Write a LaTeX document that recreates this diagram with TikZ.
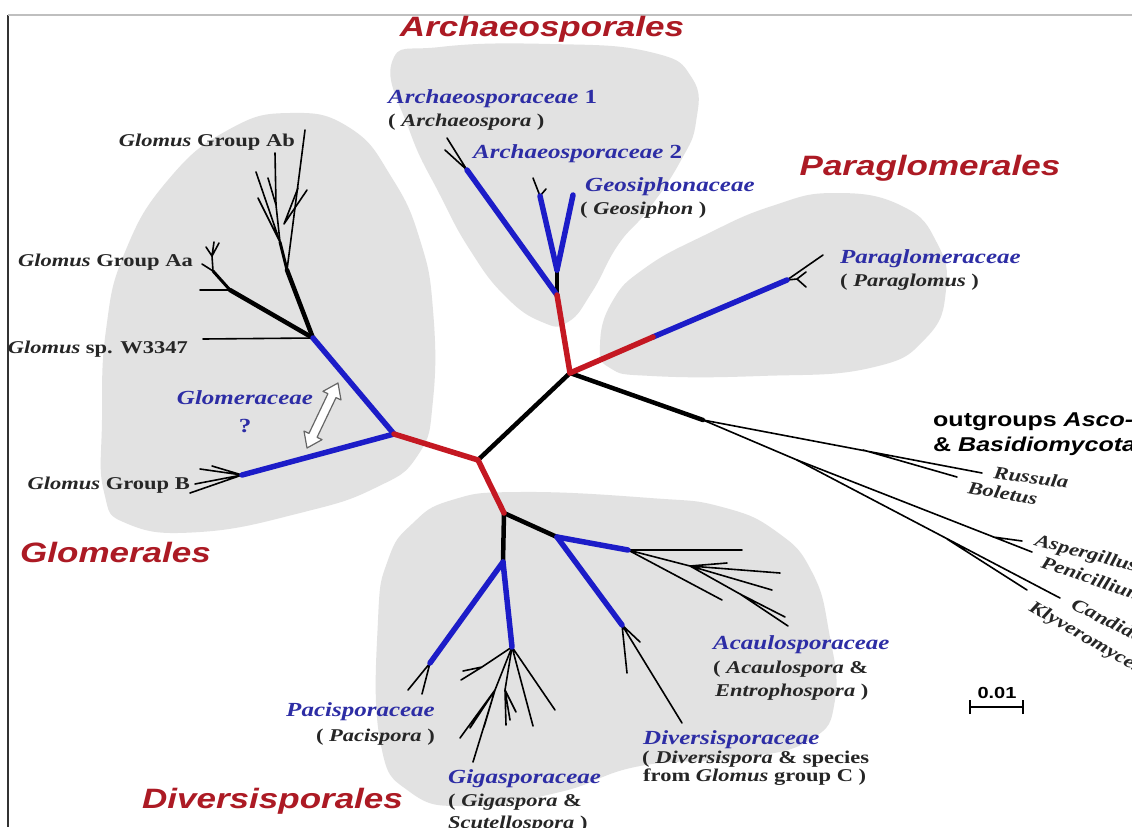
\documentclass[tikz,border=0pt]{standalone}
\usepackage{fontspec}
\setmainfont{Liberation Serif}
\setsansfont{Liberation Sans}
\usepackage{graphicx}
\definecolor{blobgrey}{RGB}{226,226,226}
\definecolor{brblue}{RGB}{28,28,200}
\definecolor{brred}{RGB}{196,24,34}
\definecolor{labblue}{RGB}{45,45,165}
\definecolor{ordred}{RGB}{172,26,36}
\newcommand\sx[1]{\scalebox{1.25}[1]{#1}}
\begin{document}
\begin{tikzpicture}[x=1pt,y=-1pt,
  bblue/.style={draw=brblue,line width=5.5pt,line cap=round},
  bred/.style={draw=brred,line width=5.5pt,line cap=round},
  bblack/.style={draw=black,line width=4.5pt,line cap=round},
  mblack/.style={draw=black,line width=3pt,line cap=round},
  twig/.style={draw=black,line width=1.6pt,line cap=round},
  fam/.style={text=labblue,inner sep=0pt,font=\fontsize{20}{22}\selectfont\bfseries},
  sub/.style={text=black!85,inner sep=0pt,font=\fontsize{18}{20}\selectfont\bfseries},
  ord/.style={text=ordred,inner sep=0pt,font=\fontsize{28}{30}\selectfont\sffamily\bfseries\itshape},
  outl/.style={text=black,inner sep=0pt,font=\fontsize{20}{22}\selectfont\sffamily\bfseries},
  blob/.style={fill=blobgrey}]
\useasboundingbox (0,0) rectangle (1132,827);
\clip (0,0) rectangle (1132,827);
\fill[white] (0,0) rectangle (1132,827);
% frame
\coordinate (fA) at (8,15); \coordinate (fB) at (8,827); \coordinate (fC) at (1132,15);
\draw[black!80,line width=1.5pt] (fA) -- (fB);
\draw[black!25,line width=1.5pt] (fA) -- (fC);
% blobs
\fill[blob] plot[smooth cycle, tension=0.8] coordinates {(290,113) (350,128) (392,178) (420,240) (433,310) (433,400) (418,455) (375,488) (300,513) (200,532) (128,524) (104,492) (102,420) (106,330) (125,252) (168,180) (228,130)};
\fill[blob] plot[smooth cycle, tension=0.8] coordinates {(392,62) (440,47) (550,44) (650,52) (692,78) (696,122) (680,162) (648,210) (618,245) (592,292) (568,322) (542,322) (505,296) (470,250) (440,195) (410,132)};
\fill[blob] plot[smooth cycle, tension=0.8] coordinates {(600,345) (612,302) (645,268) (705,235) (772,206) (835,193) (902,206) (937,243) (946,290) (926,338) (870,368) (760,376) (652,376) (610,368)};
\fill[blob] plot[smooth cycle, tension=0.8] coordinates {(378,620) (388,560) (412,524) (452,500) (520,492) (650,498) (722,507) (777,532) (812,572) (829,632) (835,700) (810,740) (740,758) (640,766) (560,792) (470,806) (410,792) (380,740)};
% ---------- coordinates ----------
\coordinate (C1) at (570,373);
\coordinate (C2) at (478,460);
\coordinate (G) at (394,434);
\coordinate (D) at (504,513);
\coordinate (A) at (557,295);
\coordinate (A2) at (557,270);
\coordinate (PR) at (653,337);
\coordinate (PT) at (787,280);
\coordinate (O) at (703,420);
% paraglomus tips
\coordinate (PTa) at (797,279);
\coordinate (pt1) at (823,255);
\coordinate (pt2) at (806,272);
\coordinate (pt3) at (806,287);
% outgroups
\coordinate (R1) at (863,450);
\coordinate (tRus) at (982,473);
\coordinate (tBol) at (957,477);
\coordinate (AS) at (797,460);
\coordinate (AP) at (993,537);
\coordinate (tAsp) at (1022,541);
\coordinate (tPen) at (1032,552);
\coordinate (CK) at (947,539);
\coordinate (tCan) at (1060,598);
\coordinate (tKly) at (1027,590);
% glomerales
\coordinate (J1) at (313,338);
\coordinate (B) at (242,475);
\coordinate (tW) at (203,339);
\coordinate (AJ) at (230,290);
\coordinate (K1) at (287,270);
\coordinate (tAb) at (305,130);
\coordinate (S1) at (280,242);
\coordinate (s1a) at (258,198);
\coordinate (s1b) at (256,172);
\coordinate (S2) at (276,205);
\coordinate (s2a) at (275,153);
\coordinate (s2b) at (268,178);
\coordinate (S3) at (284,224);
\coordinate (s3a) at (307,190);
\coordinate (s3b) at (298,188);
\coordinate (tAa1) at (200,290);
\coordinate (AJ2) at (213,271);
\coordinate (tAa2) at (202,264);
\coordinate (AJ3) at (212,256);
\coordinate (tAa3) at (219,243);
\coordinate (tAa4) at (206,247);
\coordinate (tAa5) at (214,242);
\coordinate (tB1) at (200,469);
\coordinate (tB2) at (212,466);
\coordinate (tB3) at (195,484);
\coordinate (tB4) at (190,493);
% archaeo
\coordinate (AR1) at (467,170);
\coordinate (tAr1) at (447,138);
\coordinate (tAr2) at (445,150);
\coordinate (AG1) at (540,196);
\coordinate (AG2) at (573,195);
\coordinate (tAg1) at (533,178);
\coordinate (tAg2) at (546,189);
% diversisporales
\coordinate (DG) at (503,562);
\coordinate (PAC) at (430,663);
\coordinate (GIG) at (512,647);
\coordinate (DA) at (557,537);
\coordinate (ACA) at (628,550);
\coordinate (DIV) at (622,625);
\coordinate (tPac1) at (408,690);
\coordinate (tPac2) at (422,694);
\coordinate (gA) at (482,667);
\coordinate (tgA1) at (461,680);
\coordinate (tgA2) at (463,671);
\coordinate (gB) at (495,690);
\coordinate (tgB1) at (473,762);
\coordinate (tgB2) at (460,738);
\coordinate (tgB3) at (470,728);
\coordinate (tgB4) at (484,727);
\coordinate (gC) at (505,690);
\coordinate (tgC1) at (510,720);
\coordinate (tgC2) at (516,712);
\coordinate (tgC3) at (506,725);
\coordinate (tg4) at (533,726);
\coordinate (tg5) at (555,710);
\coordinate (tDv1) at (682,723);
\coordinate (tDv2) at (627,673);
\coordinate (tDv3) at (640,642);
\coordinate (tAc1) at (742,550);
\coordinate (tAc2) at (722,600);
\coordinate (ACA2) at (690,566);
\coordinate (tAc3) at (780,573);
\coordinate (tAc4) at (772,590);
\coordinate (ACA3) at (740,594);
\coordinate (tAc5) at (785,617);
\coordinate (tAc6) at (788,626);
\coordinate (tAc7) at (727,563);
% ---------- thin twigs ----------
\draw[twig] (PT) -- (pt1);
\draw[twig] (PT) -- (PTa) (PTa) -- (pt2) (PTa) -- (pt3);
\draw[twig] (O) -- (tRus) (R1) -- (tBol);
\draw[twig] (O) -- (AS) (AS) -- (tPen) (AP) -- (tAsp);
\draw[twig] (AS) -- (tCan) (CK) -- (tKly);
\draw[twig] (J1) -- (tW);
\draw[twig] (K1) -- (tAb);
\draw[twig] (S1) -- (s1a) (S1) -- (s1b);
\draw[twig] (S2) -- (s2a) (S2) -- (s2b) (S1) -- (S2);
\draw[twig] (S3) -- (s3a) (S3) -- (s3b);
\draw[twig] (AJ) -- (tAa1) (AJ2) -- (tAa2) (AJ2) -- (AJ3) (AJ3) -- (tAa3) (AJ3) -- (tAa4) (AJ3) -- (tAa5);
\draw[twig] (B) -- (tB1) (B) -- (tB2) (B) -- (tB3) (B) -- (tB4);
\draw[twig] (AR1) -- (tAr1) (AR1) -- (tAr2);
\draw[twig] (AG1) -- (tAg1) (AG1) -- (tAg2);
\draw[twig] (PAC) -- (tPac1) (PAC) -- (tPac2);
\draw[twig] (GIG) -- (gA) (gA) -- (tgA1) (gA) -- (tgA2);
\draw[twig] (GIG) -- (gB) (gB) -- (tgB1) (gB) -- (tgB2) (gB) -- (tgB3) (gB) -- (tgB4);
\draw[twig] (GIG) -- (gC) (gC) -- (tgC1) (gC) -- (tgC2) (gC) -- (tgC3);
\draw[twig] (GIG) -- (tg4) (GIG) -- (tg5);
\draw[twig] (DIV) -- (tDv1) (DIV) -- (tDv2) (DIV) -- (tDv3);
\draw[twig] (ACA) -- (tAc1) (ACA) -- (tAc2) (ACA) -- (ACA2) (ACA2) -- (tAc3) (ACA2) -- (tAc4) (ACA2) -- (ACA3) (ACA3) -- (tAc5) (ACA3) -- (tAc6) (ACA2) -- (tAc7);
% ---------- medium / thick ----------
\draw[mblack] (K1) -- (S1);
\draw[mblack] (AJ) -- (AJ2);
\draw[bblack] (C1) -- (C2);
\draw[bblack] (C1) -- (O);
\draw[bblack] (J1) -- (AJ);
\draw[bblack] (J1) -- (K1);
\draw[bblack] (A) -- (A2);
\draw[bblack] (D) -- (DG);
\draw[bblack] (D) -- (DA);
\draw[bblue] (G) -- (J1);
\draw[bblue] (G) -- (B);
\draw[bblue] (A) -- (AR1);
\draw[bblue] (A2) -- (AG1);
\draw[bblue] (A2) -- (AG2);
\draw[bblue] (PR) -- (PT);
\draw[bblue] (DG) -- (PAC);
\draw[bblue] (DG) -- (GIG);
\draw[bblue] (DA) -- (ACA);
\draw[bblue] (DA) -- (DIV);
\draw[bred] (C2) -- (G);
\draw[bred] (C2) -- (D);
\draw[bred] (C1) -- (A);
\draw[bred] (C1) -- (PR);
% ---------- double arrow ----------
\begin{scope}[shift={(322.5,415.5)}, rotate=64.5]
\draw[fill=white, draw=black!60, line width=1.2pt, line join=round]
  (-36,0) -- (-22,10) -- (-22,4.5) -- (22,4.5) -- (22,10) -- (36,0) -- (22,-10) -- (22,-4.5) -- (-22,-4.5) -- (-22,-10) -- cycle;
\end{scope}
% ---------- scale bar ----------
\coordinate (sb1) at (970,707); \coordinate (sb2) at (1023,707);
\draw[line width=1.6pt] (sb1) -- (sb2);
\draw[line width=1.6pt] ([yshift=-7pt]sb1) -- ([yshift=7pt]sb1) ([yshift=-7pt]sb2) -- ([yshift=7pt]sb2);
\node[inner sep=0pt, anchor=base, font=\sffamily\bfseries\fontsize{16}{18}\selectfont] (lsc) at (997,698) {\sx{0.01}};
% ---------- labels ----------
\node[sub,anchor=base east] (lAb) at (295,146) {\sx{\itshape Glomus \upshape Group Ab}};
\node[sub,anchor=base east] (lAa) at (193,266) {\sx{\itshape Glomus \upshape Group Aa}};
\node[sub,anchor=base east] (lW) at (188,353) {\sx{\itshape Glomus \upshape sp. W3347}};
\node[fam,anchor=base] (lGlo) at (245,404) {\sx{\itshape Glomeraceae}};
\node[fam,anchor=base] (lQ) at (245,432) {\sx{?}};
\node[sub,anchor=base east] (lB) at (190,489) {\sx{\itshape Glomus \upshape Group B}};
\node[ord,anchor=base west] (oGlo) at (20,562) {\sx{Glomerales}};
\node[ord,anchor=base] (oArc) at (542,36) {\sx{Archaeosporales}};
\node[fam,anchor=base west] (lAr1) at (388,103) {\sx{\itshape Archaeosporaceae \upshape 1}};
\node[sub,anchor=base west] (lAr1s) at (388,126) {\sx{( \itshape Archaeospora \upshape )}};
\node[fam,anchor=base west] (lAr2) at (473,158) {\sx{\itshape Archaeosporaceae \upshape 2}};
\node[fam,anchor=base west] (lGeo) at (585,191) {\sx{\itshape Geosiphonaceae}};
\node[sub,anchor=base west] (lGeos) at (580,214) {\sx{( \itshape Geosiphon \upshape )}};
\node[ord,anchor=base] (oPar) at (930,175) {\sx{Paraglomerales}};
\node[fam,anchor=base west] (lPar) at (840,263) {\sx{\itshape Paraglomeraceae}};
\node[sub,anchor=base west] (lPars) at (840,286) {\sx{( \itshape Paraglomus \upshape )}};
\node[outl,anchor=base west] (lOut1) at (933,426) {\sx{outgroups \itshape Asco-}};
\node[outl,anchor=base west] (lOut2) at (933,451) {\sx{\& \itshape Basidiomycota}};
\node[sub,anchor=base west,rotate=-8] (lRus) at (993,478) {\sx{\itshape Russula}};
\node[sub,anchor=base west,rotate=-10] (lBol) at (967,493) {\sx{\itshape Boletus}};
\node[sub,anchor=base west,rotate=-15] (lAsp) at (1034,545) {\sx{\itshape Aspergillus}};
\node[sub,anchor=base west,rotate=-19] (lPen) at (1040,567) {\sx{\itshape Penicillium}};
\node[sub,anchor=base west,rotate=-27] (lCan) at (1070,608) {\sx{\itshape Candida}};
\node[sub,anchor=base west,rotate=-30] (lKly) at (1028,610) {\sx{\itshape Klyveromyces}};
\node[fam,anchor=base west] (lAca) at (713,649) {\sx{\itshape Acaulosporaceae}};
\node[sub,anchor=base west] (lAca2) at (713,673) {\sx{( \itshape Acaulospora \upshape \&}};
\node[sub,anchor=base west] (lAca3) at (715,696) {\sx{\itshape Entrophospora \upshape )}};
\node[fam,anchor=base west] (lDiv) at (643,744) {\sx{\itshape Diversisporaceae}};
\node[sub,anchor=base west] (lDiv2) at (642,763) {\sx{( \itshape Diversispora \upshape \& species}};
\node[sub,anchor=base west] (lDiv3) at (643,781) {\sx{from \itshape Glomus \upshape group C )}};
\node[fam,anchor=base west] (lGig) at (448,783) {\sx{\itshape Gigasporaceae}};
\node[sub,anchor=base west] (lGig2) at (448,806) {\sx{( \itshape Gigaspora \upshape \&}};
\node[sub,anchor=base west] (lGig3) at (448,828) {\sx{\itshape Scutellospora \upshape )}};
\node[fam,anchor=base east] (lPac) at (435,716) {\sx{\itshape Pacisporaceae}};
\node[sub,anchor=base east] (lPac2) at (435,741) {\sx{( \itshape Pacispora \upshape )}};
\node[ord,anchor=base west] (oDiv) at (142,808) {\sx{Diversisporales}};
\end{tikzpicture}
\end{document}
